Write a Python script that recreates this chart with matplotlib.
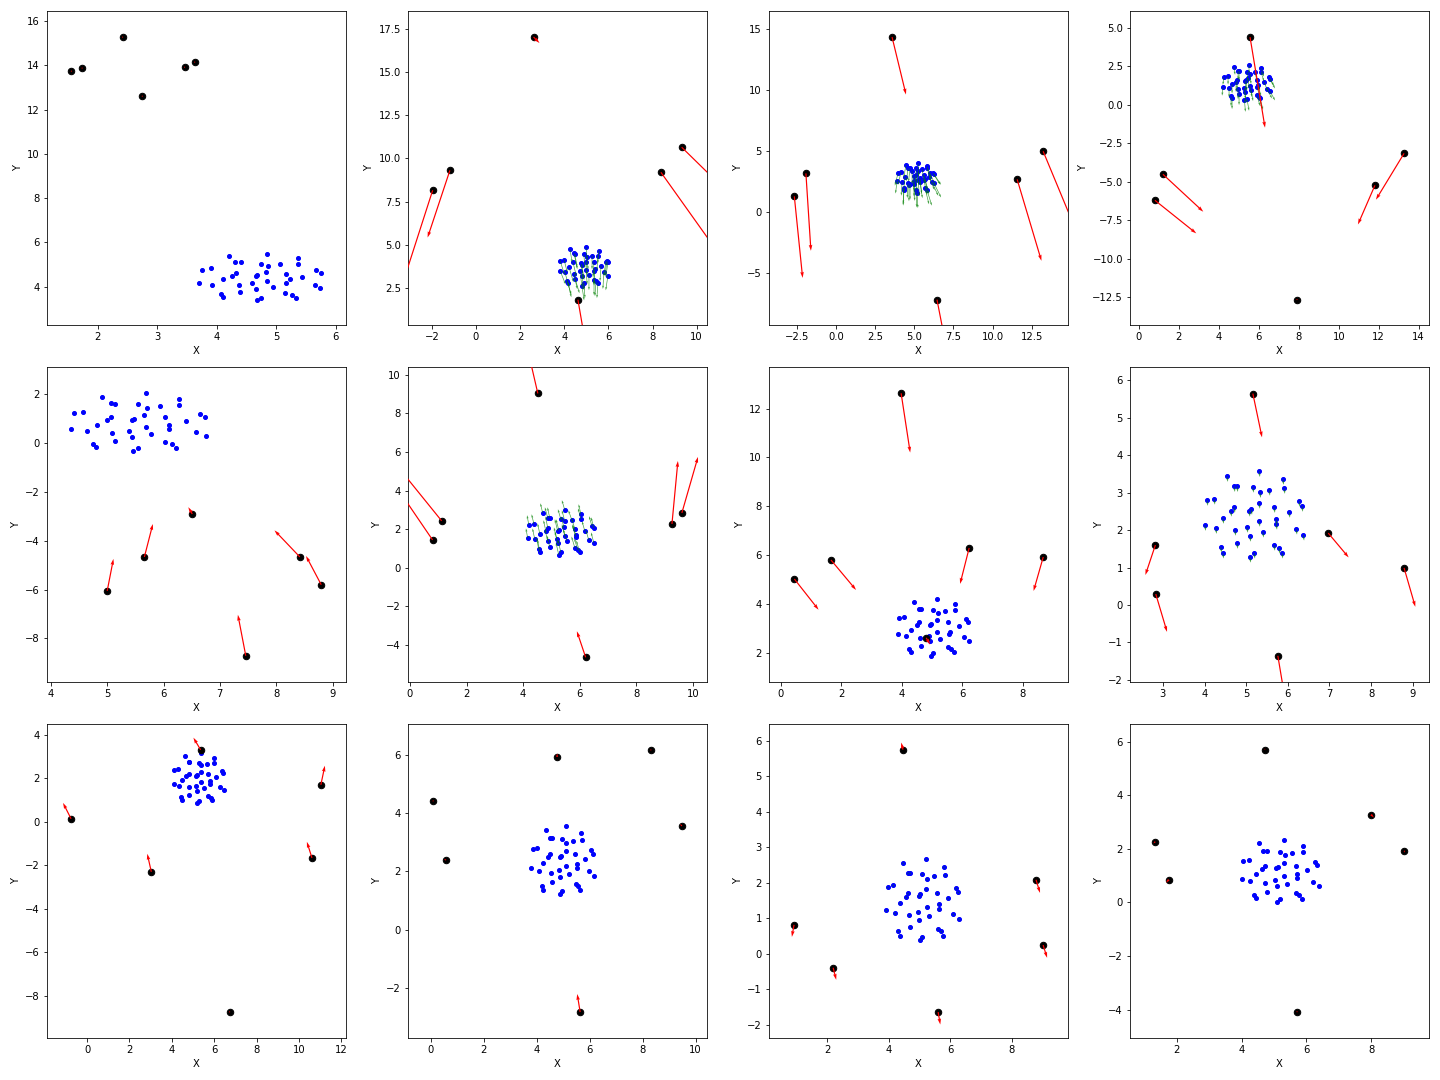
import numpy as np
import matplotlib
matplotlib.use("Agg")
import matplotlib.pyplot as plt

# ---- panel data: blue swarm (x, y), green arrows (u, v), black points (x, y), red arrows (u, v)

p1_blue = [(4.20, 5.36), (4.84, 5.45), (5.37, 5.27), (5.37, 5.04), (5.07, 5.04), (4.74, 5.04), (4.86, 4.95),
           (4.30, 5.09), (4.40, 5.13), (3.76, 4.77), (3.90, 4.82), (5.67, 4.73), (5.75, 4.63), (4.83, 4.68),
           (4.32, 4.63), (4.25, 4.50), (4.67, 4.54), (4.66, 4.50), (5.16, 4.59), (5.43, 4.45), (4.10, 4.36),
           (5.23, 4.32), (4.84, 4.27), (5.16, 4.18), (3.71, 4.18), (3.92, 4.09), (4.59, 4.14), (4.37, 4.05),
           (4.94, 4.00), (4.66, 3.91), (5.65, 4.09), (5.74, 3.95), (4.39, 3.77), (5.15, 3.73), (4.07, 3.68),
           (4.10, 3.55), (5.26, 3.64), (5.33, 3.50), (4.74, 3.50), (4.67, 3.41)]
p1_green = [(0.0, 0.0)]
p1_black = [(1.56, 13.74), (1.74, 13.88), (2.42, 15.28), (2.75, 12.61), (3.46, 13.92), (3.63, 14.15)]
p1_red = [(0.0, 0.0)] * 6

p2_blue = [(4.26, 4.74), (4.99, 4.86), (5.57, 4.68), (4.44, 4.51), (4.49, 4.45), (4.89, 4.45), (5.26, 4.39),
           (5.03, 4.33), (5.53, 4.39), (3.81, 4.10), (3.99, 4.16), (5.94, 4.10), (5.98, 3.99), (4.40, 3.99),
           (4.76, 3.93), (4.99, 4.04), (5.35, 3.99), (5.67, 3.81), (4.22, 3.70), (4.80, 3.87), (3.81, 3.52),
           (4.03, 3.41), (4.71, 3.47), (4.99, 3.58), (5.39, 3.64), (5.98, 3.23), (4.44, 3.35), (4.80, 3.23),
           (5.12, 3.29), (5.80, 3.41), (4.49, 3.06), (5.35, 3.00), (4.12, 2.94), (4.17, 2.83), (5.44, 2.89),
           (5.53, 2.83), (4.89, 2.83), (4.80, 2.65), (5.35, 3.50), (5.89, 4.04)]
p2_green = [(0.10, -0.75), (0.05, -0.70), (-0.05, -0.75), (0.15, -0.80), (0.10, -0.85), (0.05, -0.80),
            (0.00, -0.80), (0.05, -0.75), (-0.05, -0.85), (0.20, -0.80), (0.15, -0.75), (-0.10, -0.90),
            (-0.10, -0.85), (0.15, -0.80), (0.10, -0.85), (0.05, -0.80), (-0.05, -0.85), (-0.05, -0.90),
            (0.20, -0.85), (0.10, -0.90), (0.25, -0.80), (0.20, -0.85), (0.10, -0.90), (0.05, -0.85),
            (-0.05, -0.90), (-0.10, -0.85), (0.15, -0.90), (0.10, -0.85), (0.00, -0.90), (-0.05, -0.95),
            (0.20, -0.85), (0.00, -0.90), (0.20, -0.80), (0.15, -0.85), (-0.05, -0.85), (-0.05, -0.90),
            (0.05, -0.90), (0.10, -0.85), (0.00, -0.85), (-0.10, -0.80)]
p2_black = [(-1.96, 8.16), (-1.18, 9.31), (2.61, 17.02), (4.62, 1.84), (8.38, 9.20), (9.32, 10.65)]
p2_red = [(-1.35, -5.35), (-1.01, -3.88), (0.27, -0.35), (0.35, -2.6), (2.4, -4.3), (2.0, -2.5)]

p3_blue = [(5.24, 3.99), (4.47, 3.83), (4.73, 3.58), (4.60, 3.58), (5.11, 3.58), (5.50, 3.50), (5.82, 3.75),
           (5.82, 3.58), (3.96, 3.17), (4.15, 3.26), (5.24, 3.34), (6.20, 3.17), (6.26, 3.09), (4.41, 2.85),
           (4.98, 2.93), (5.11, 3.01), (5.62, 3.01), (5.95, 2.85), (3.90, 2.52), (4.22, 2.44), (4.60, 2.35),
           (4.98, 2.52), (5.24, 2.60), (5.62, 2.60), (5.37, 2.44), (6.13, 2.44), (6.26, 2.35), (4.66, 2.19),
           (4.98, 2.27), (4.34, 1.94), (4.34, 1.78), (5.11, 1.78), (5.69, 1.94), (5.82, 1.78), (4.73, 2.27),
           (5.37, 2.76), (4.86, 3.39), (5.69, 2.68), (6.01, 3.17), (5.18, 1.53)]
p3_green = [(0.05, -1.05), (-0.15, -1.00), (-0.10, -1.10), (-0.10, -1.05), (0.00, -1.15), (0.15, -1.10),
            (0.25, -1.00), (0.25, -1.05), (-0.20, -1.00), (-0.20, -1.05), (0.05, -1.15), (0.45, -0.90),
            (0.45, -0.85), (-0.10, -1.20), (0.00, -1.20), (0.05, -1.25), (0.20, -1.15), (0.35, -1.05),
            (-0.10, -1.00), (-0.05, -1.10), (-0.05, -1.20), (0.00, -1.25), (0.10, -1.30), (0.20, -1.20),
            (0.15, -1.30), (0.40, -1.10), (0.45, -1.15), (0.00, -1.30), (0.05, -1.35), (-0.05, -1.25),
            (-0.05, -1.25), (0.05, -1.40), (0.25, -1.30), (0.30, -1.25), (0.00, -1.25), (0.10, -1.25),
            (0.00, -1.10), (0.25, -1.20), (0.35, -1.00), (0.05, -1.20)]
p3_black = [(-2.66, 1.29), (-1.92, 3.17), (3.58, 14.34), (6.45, -7.17), (11.57, 2.68), (13.23, 4.98)]
p3_red = [(0.53, -6.68), (0.32, -6.34), (0.89, -4.71), (0.5, -3.3), (1.55, -6.67), (2.2, -6.8)]

p4_blue = [(5.51, 2.58), (4.76, 2.45), (6.11, 2.39), (4.96, 2.19), (5.01, 2.19), (5.41, 2.13), (5.81, 2.13),
           (6.11, 2.13), (5.56, 2.00), (4.25, 1.80), (4.46, 1.87), (6.51, 1.80), (6.56, 1.67), (5.46, 1.74),
           (5.36, 1.61), (4.91, 1.61), (5.31, 1.54), (4.86, 1.48), (5.91, 1.61), (6.26, 1.48), (4.66, 1.34),
           (5.96, 1.28), (4.21, 1.15), (4.51, 1.08), (5.28, 1.08), (5.56, 1.21), (5.91, 1.15), (4.96, 1.02),
           (6.41, 1.02), (6.56, 0.89), (5.61, 0.95), (5.31, 0.82), (5.01, 0.69), (4.61, 0.56), (4.66, 0.43),
           (5.91, 0.63), (6.01, 0.50), (6.06, 0.43), (5.41, 0.37), (5.28, 0.30)]
p4_green = [(0.00, -0.55), (0.05, -0.50), (0.15, -0.55), (0.00, -0.55), (0.00, -0.60), (0.05, -0.60),
            (0.10, -0.60), (0.15, -0.60), (0.05, -0.65), (-0.05, -0.50), (0.00, -0.55), (0.25, -0.55),
            (0.25, -0.60), (0.05, -0.65), (0.05, -0.65), (0.00, -0.60), (0.05, -0.65), (0.00, -0.65),
            (0.15, -0.65), (0.20, -0.60), (0.00, -0.60), (0.15, -0.70), (-0.05, -0.55), (0.00, -0.60),
            (0.05, -0.70), (0.10, -0.70), (0.15, -0.65), (0.00, -0.65), (0.25, -0.60), (0.25, -0.60),
            (0.10, -0.70), (0.05, -0.70), (0.00, -0.70), (0.00, -0.65), (0.00, -0.70), (0.15, -0.70),
            (0.15, -0.70), (0.15, -0.75), (0.10, -0.75), (0.05, -0.75)]
p4_black = [(5.56, 4.40), (1.20, -4.51), (0.80, -6.20), (7.91, -12.65), (11.81, -5.23), (13.27, -3.15)]
p4_red = [(0.75, -5.88), (2.02, -2.43), (2.07, -2.15), (0.0, 0.0), (-0.85, -2.54), (-1.41, -3.01)]

p5_blue = [(4.36, 0.57), (4.41, 1.23), (4.57, 1.27), (4.64, 0.49), (4.75, -0.04), (4.80, -0.16), (4.82, 0.74),
           (4.91, 1.88), (5.00, 0.94), (5.07, 1.06), (5.07, 1.63), (5.14, 1.59), (5.09, 0.41), (5.14, 0.08),
           (5.39, 0.49), (5.44, 0.94), (5.48, 0.98), (5.44, 0.25), (5.46, -0.33), (5.55, -0.20), (5.55, 1.59),
           (5.66, 1.14), (5.68, 2.04), (5.70, 1.43), (5.68, 0.65), (5.78, 0.37), (5.94, 1.51), (6.03, 1.06),
           (6.03, 0.04), (6.10, 0.74), (6.09, 0.57), (6.15, -0.04), (6.23, -0.20), (6.28, 1.80), (6.28, 1.55),
           (6.39, 0.90), (6.57, 0.45), (6.64, 1.19), (6.73, 1.06), (6.75, 0.29)]
p5_green = [(0.0, 0.0)]
p5_black = [(5.00, -6.05), (5.66, -4.66), (6.51, -2.90), (7.46, -8.71), (8.42, -4.66), (8.80, -5.80)]
p5_red = [(0.11, 1.31), (0.15, 1.35), (-0.07, 0.28), (-0.14, 1.68), (-0.45, 1.09), (-0.27, 1.18)]

p6_blue = [(5.47, 3.00), (4.69, 2.84), (6.04, 2.79), (4.87, 2.58), (4.94, 2.58), (5.33, 2.53), (5.47, 2.43),
           (5.72, 2.48), (6.04, 2.53), (4.20, 2.22), (4.38, 2.27), (6.43, 2.17), (6.50, 2.06), (5.44, 2.11),
           (4.87, 2.06), (4.80, 1.91), (5.26, 1.96), (5.22, 1.91), (5.83, 2.01), (6.18, 1.91), (4.59, 1.75),
           (5.47, 1.65), (5.86, 1.70), (5.86, 1.59), (4.16, 1.54), (4.41, 1.49), (5.19, 1.49), (4.87, 1.39),
           (5.54, 1.39), (6.32, 1.44), (6.50, 1.28), (4.94, 1.07), (4.55, 0.97), (4.59, 0.81), (5.83, 1.02),
           (5.93, 0.92), (6.00, 0.81), (5.33, 0.81), (5.26, 0.66), (5.22, 1.28)]
p6_green = [(-0.10, 0.50), (-0.08, 0.50), (-0.08, 0.50), (-0.10, 0.55), (-0.08, 0.55), (-0.10, 0.50),
            (-0.10, 0.55), (-0.12, 0.50), (-0.10, 0.55), (-0.06, 0.50), (-0.08, 0.50), (-0.10, 0.50),
            (-0.10, 0.55), (-0.10, 0.55), (-0.08, 0.60), (-0.08, 0.55), (-0.10, 0.55), (-0.10, 0.60),
            (-0.12, 0.55), (-0.10, 0.50), (-0.08, 0.55), (-0.10, 0.60), (-0.12, 0.55), (-0.12, 0.60),
            (-0.06, 0.50), (-0.08, 0.55), (-0.10, 0.60), (-0.10, 0.60), (-0.12, 0.60), (-0.10, 0.50),
            (-0.10, 0.55), (-0.10, 0.60), (-0.08, 0.60), (-0.08, 0.65), (-0.12, 0.60), (-0.12, 0.60),
            (-0.12, 0.60), (-0.10, 0.65), (-0.10, 0.65), (-0.10, 0.60)]
p6_black = [(4.52, 9.03), (1.12, 2.43), (0.80, 1.44), (6.21, -4.64), (9.26, 2.27), (9.61, 2.84)]
p6_red = [(-0.3, 1.9), (-1.6, 2.9), (-1.3, 2.8), (-0.31, 1.35), (0.21, 3.26), (0.57, 2.90)]

p7_blue = [(5.17, 4.21), (4.41, 4.08), (5.77, 4.00), (4.58, 3.80), (4.64, 3.80), (5.04, 3.76), (5.20, 3.63),
           (5.44, 3.72), (5.77, 3.76), (3.92, 3.43), (4.08, 3.47), (6.13, 3.39), (6.20, 3.27), (5.17, 3.35),
           (4.58, 3.27), (4.51, 3.14), (4.97, 3.19), (4.94, 3.14), (5.53, 3.27), (5.90, 3.10), (4.31, 2.94),
           (5.17, 2.86), (5.57, 2.78), (5.60, 2.86), (3.88, 2.78), (4.15, 2.69), (4.91, 2.69), (4.61, 2.61),
           (5.27, 2.57), (6.06, 2.65), (6.23, 2.49), (4.64, 2.29), (4.24, 2.16), (4.31, 2.04), (5.53, 2.25),
           (5.63, 2.16), (5.73, 2.04), (5.04, 2.00), (4.97, 1.88), (4.94, 2.49)]
p7_green = [(0.0, 0.0)]
p7_black = [(3.98, 12.63), (0.45, 5.02), (1.66, 5.80), (6.23, 6.29), (8.68, 5.92), (4.81, 2.61)]
p7_red = [(0.30, -2.43), (0.80, -1.26), (0.83, -1.23), (-0.30, -1.47), (-0.32, -1.39), (0.13, -0.28)]

p8_blue = [(5.31, 3.57), (4.54, 3.44), (5.88, 3.36), (4.71, 3.17), (4.78, 3.17), (5.16, 3.15), (5.91, 3.12),
           (5.33, 3.01), (5.55, 3.07), (4.06, 2.80), (4.23, 2.83), (6.27, 2.77), (6.34, 2.64), (5.31, 2.72),
           (5.67, 2.61), (4.71, 2.61), (4.63, 2.51), (5.12, 2.56), (5.07, 2.51), (6.03, 2.48), (4.44, 2.32),
           (5.72, 2.29), (5.31, 2.24), (5.72, 2.16), (4.01, 2.13), (4.27, 2.05), (5.02, 2.08), (4.73, 2.00),
           (5.40, 1.95), (6.20, 2.03), (6.37, 1.87), (5.09, 1.84), (4.78, 1.65), (5.67, 1.60), (5.79, 1.52),
           (4.39, 1.55), (4.44, 1.39), (5.86, 1.39), (5.19, 1.39), (5.09, 1.28)]
p8_green = [(0.02, -0.15)]
p8_black = [(5.16, 5.65), (2.82, 1.60), (2.83, 0.29), (5.76, -1.36), (6.97, 1.92), (8.79, 0.99)]
p8_red = [(0.22, -1.17), (-0.24, -0.80), (0.27, -1.01), (0.15, -1.0), (0.49, -0.65), (0.27, -1.04)]

p9_blue = [(4.60, 3.04), (5.97, 2.94), (5.97, 2.71), (4.79, 2.76), (4.83, 2.76), (5.26, 2.71), (5.40, 2.62),
           (5.64, 2.67), (4.12, 2.39), (4.27, 2.44), (6.35, 2.35), (6.40, 2.25), (5.36, 2.30), (5.73, 2.21),
           (4.79, 2.21), (4.69, 2.12), (5.17, 2.16), (5.12, 2.12), (6.11, 2.07), (4.50, 1.93), (5.40, 1.84),
           (5.78, 1.89), (5.78, 1.75), (4.08, 1.75), (4.36, 1.66), (4.79, 1.61), (5.12, 1.66), (5.50, 1.56),
           (6.26, 1.61), (6.45, 1.47), (5.17, 1.43), (4.83, 1.24), (4.45, 1.15), (4.50, 1.01), (5.73, 1.20),
           (5.83, 1.10), (5.92, 1.01), (5.26, 0.97), (5.17, 0.87), (5.40, 3.17)]
p9_green = [(0.0, 0.0)]
p9_black = [(-0.76, 0.14), (3.03, -2.30), (5.36, 3.31), (6.73, -8.74), (10.62, -1.66), (11.04, 1.70)]
p9_red = [(-0.38, 0.73), (-0.19, 0.83), (-0.34, 0.56), (0.0, 0.0), (-0.24, 0.74), (0.19, 0.88)]

p10_blue = [(5.11, 3.56), (4.35, 3.42), (5.67, 3.32), (4.50, 3.15), (4.58, 3.15), (4.96, 3.12), (5.37, 3.05),
            (5.71, 3.08), (5.11, 2.98), (3.86, 2.77), (4.01, 2.81), (6.05, 2.74), (6.13, 2.60), (5.11, 2.70),
            (5.45, 2.60), (4.50, 2.60), (4.43, 2.50), (4.92, 2.53), (4.88, 2.50), (5.82, 2.43), (4.24, 2.29),
            (5.52, 2.26), (5.11, 2.19), (5.52, 2.12), (3.79, 2.12), (4.09, 2.02), (4.84, 2.05), (4.54, 1.95),
            (5.22, 1.91), (5.97, 2.02), (6.16, 1.84), (4.88, 1.81), (4.58, 1.64), (4.20, 1.50), (4.24, 1.36),
            (5.48, 1.57), (5.56, 1.50), (5.64, 1.36), (4.96, 1.33), (4.88, 1.23)]
p10_green = [(0.0, 0.0)]
p10_black = [(0.09, 4.42), (0.58, 2.39), (4.77, 5.93), (8.31, 6.17), (9.48, 3.56), (5.64, -2.83)]
p10_red = [(0.0, 0.03), (-0.08, 0.03), (0.0, 0.12), (0.0, 0.0), (-0.07, 0.07), (-0.11, 0.62)]

p11_blue = [(5.22, 2.67), (4.47, 2.56), (5.80, 2.45), (4.63, 2.28), (4.70, 2.28), (5.09, 2.25), (5.48, 2.19),
            (5.84, 2.22), (5.25, 2.11), (3.98, 1.88), (4.15, 1.94), (6.19, 1.85), (6.26, 1.74), (5.22, 1.83),
            (5.58, 1.71), (4.63, 1.71), (4.57, 1.60), (5.02, 1.68), (4.99, 1.63), (5.93, 1.57), (4.37, 1.43),
            (5.64, 1.40), (5.25, 1.32), (5.64, 1.26), (3.92, 1.23), (4.21, 1.15), (4.96, 1.18), (4.67, 1.09),
            (5.32, 1.06), (6.10, 1.12), (6.29, 0.98), (4.99, 0.95), (4.70, 0.75), (4.31, 0.64), (4.37, 0.50),
            (5.61, 0.70), (5.71, 0.64), (5.77, 0.50), (5.09, 0.47), (5.02, 0.39)]
p11_green = [(0.0, -0.06)]
p11_black = [(4.47, 5.75), (0.93, 0.81), (2.20, -0.40), (5.61, -1.65), (8.79, 2.08), (9.02, 0.24)]
p11_red = [(-0.06, 0.20), (-0.07, -0.34), (0.10, -0.34), (0.07, -0.35), (0.13, -0.37), (0.13, -0.36)]

p12_blue = [(5.31, 2.34), (4.54, 2.23), (5.90, 2.12), (4.66, 1.93), (4.79, 1.93), (5.19, 1.89), (5.56, 1.86),
            (5.90, 1.89), (5.34, 1.78), (4.05, 1.56), (4.23, 1.59), (6.27, 1.52), (6.33, 1.41), (5.31, 1.48),
            (5.68, 1.37), (4.72, 1.37), (4.63, 1.26), (5.12, 1.33), (5.06, 1.30), (6.02, 1.22), (4.45, 1.07),
            (5.71, 1.07), (5.31, 1.00), (5.71, 0.92), (4.01, 0.88), (4.26, 0.81), (5.03, 0.85), (4.72, 0.73),
            (5.40, 0.70), (6.20, 0.77), (6.39, 0.62), (5.09, 0.62), (4.79, 0.40), (4.38, 0.29), (4.45, 0.17),
            (5.68, 0.36), (5.77, 0.29), (5.86, 0.14), (5.19, 0.14), (5.09, 0.02)]
p12_green = [(0.0, 0.0)]
p12_black = [(1.34, 2.27), (1.76, 0.85), (4.72, 5.70), (7.99, 3.28), (9.01, 1.93), (5.71, -4.08)]
p12_red = [(-0.06, -0.07), (-0.09, -0.11), (0.0, 0.05), (0.09, -0.11), (0.03, -0.07), (0.0, 0.0)]

blues = [p1_blue, p2_blue, p3_blue, p4_blue, p5_blue, p6_blue, p7_blue, p8_blue, p9_blue, p10_blue, p11_blue, p12_blue]
greens = [p1_green, p2_green, p3_green, p4_green, p5_green, p6_green, p7_green, p8_green, p9_green, p10_green,
          p11_green, p12_green]
blacks = [p1_black, p2_black, p3_black, p4_black, p5_black, p6_black, p7_black, p8_black, p9_black, p10_black,
          p11_black, p12_black]
reds = [p1_red, p2_red, p3_red, p4_red, p5_red, p6_red, p7_red, p8_red, p9_red, p10_red, p11_red, p12_red]

# axis windows as seen in the picture
xlims = [(1.15, 6.17), (-3.08, 10.47), (-4.28, 14.82), (-0.45, 14.52),
         (3.93, 9.24), (-0.07, 10.50), (-0.39, 9.50), (2.21, 9.39),
         (-1.90, 12.23), (-0.86, 10.43), (0.115, 9.83), (0.56, 9.78)]
ylims = [(2.25, 16.46), (0.36, 18.52), (-9.27, 16.47), (-14.32, 6.10),
         (-9.77, 3.11), (-5.9, 10.38), (0.815, 13.69), (-2.05, 6.35),
         (-9.94, 4.51), (-3.72, 7.07), (-2.38, 6.48), (-5.06, 6.67)]


def draw_panel(ax, blue, green, black, red, xlim, ylim):
	b = np.array(blue)
	g = np.array(green)
	if len(g) == 1:
		g = np.repeat(g, len(b), axis=0)
	k = np.array(black)
	r = np.array(red)

	ax.scatter(b[:, 0], b[:, 1], s=16, c="blue", zorder=2)
	ax.quiver(b[:, 0], b[:, 1], g[:, 0], g[:, 1], color="green", alpha=0.75, angles="xy",
	          scale_units="xy", scale=1, width=0.0022, zorder=3)
	ax.scatter(k[:, 0], k[:, 1], s=42, c="black", zorder=4)
	ax.quiver(k[:, 0], k[:, 1], r[:, 0], r[:, 1], color="red", angles="xy",
	          scale_units="xy", scale=1, width=0.004, zorder=5)

	ax.set_xlim(xlim)
	ax.set_ylim(ylim)
	ax.set_xlabel("X")
	ax.set_ylabel("Y")


fig, axes = plt.subplots(3, 4, figsize=(20, 15), dpi=72)
for i, ax in enumerate(axes.flatten()):
	draw_panel(ax, blues[i], greens[i], blacks[i], reds[i], xlims[i], ylims[i])

fig.subplots_adjust(left=0.0326, right=0.9924, bottom=0.0389, top=0.9898, wspace=0.207, hspace=0.134)
plt.savefig("out.png", dpi=72)
